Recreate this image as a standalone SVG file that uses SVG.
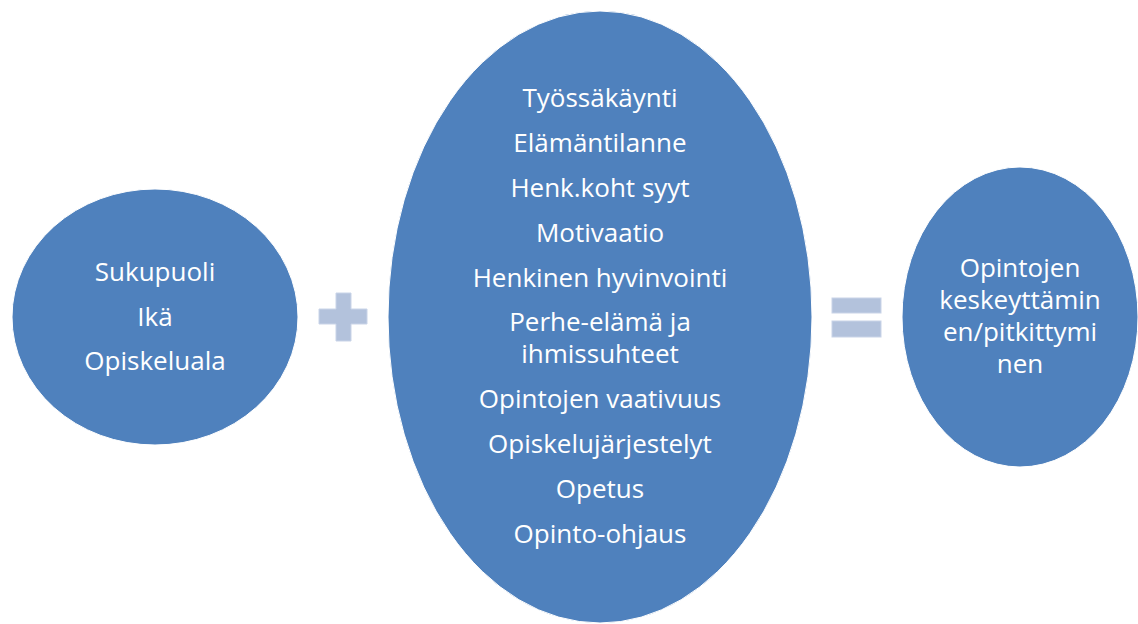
<svg xmlns="http://www.w3.org/2000/svg" width="1138" height="624" viewBox="0 0 1138 624">
  <style>
    .node { fill: #4F81BD; stroke: #ffffff; stroke-width: 1; }
    .op { fill: #B3C2DC; stroke: #C9D4E8; stroke-width: 1; }
    .t { font-family: "Open Sans", "Liberation Sans", sans-serif; font-size: 26px; fill: #ffffff; text-anchor: middle; }
  </style>
  <rect width="1138" height="624" fill="#ffffff"/>
  <g id="node-taustatekijat">
    <ellipse class="node" cx="155" cy="317" rx="143" ry="128"/>
    <text class="t" x="155" y="281">Sukupuoli</text>
    <text class="t" x="155" y="326">Ikä</text>
    <text class="t" x="155" y="370">Opiskeluala</text>
  </g>
  <g id="node-syyt">
    <ellipse class="node" cx="600" cy="317" rx="212" ry="306"/>
    <text class="t" x="600" y="107">Työssäkäynti</text>
    <text class="t" x="600" y="152">Elämäntilanne</text>
    <text class="t" x="600" y="197">Henk.koht syyt</text>
    <text class="t" x="600" y="242">Motivaatio</text>
    <text class="t" x="600" y="287">Henkinen hyvinvointi</text>
    <text class="t" x="600" y="331">Perhe-elämä ja</text>
    <text class="t" x="600" y="363">ihmissuhteet</text>
    <text class="t" x="600" y="408">Opintojen vaativuus</text>
    <text class="t" x="600" y="453">Opiskelujärjestelyt</text>
    <text class="t" x="600" y="498">Opetus</text>
    <text class="t" x="600" y="543">Opinto-ohjaus</text>
  </g>
  <g id="node-tulos">
    <ellipse class="node" cx="1020" cy="317" rx="118" ry="150"/>
    <text class="t" x="1020" y="277" font-size="27">Opintojen</text>
    <text class="t" x="1020" y="309" font-size="27">keskeyttämin</text>
    <text class="t" x="1020" y="341" font-size="27">en/pitkittymi</text>
    <text class="t" x="1020" y="373" font-size="27">nen</text>
  </g>
  <g id="connectors">
    <path class="op" d="M336 293 H351 V309 H367 V324 H351 V341 H336 V324 H319 V309 H336 Z"/>
    <rect class="op" x="832" y="298" width="49" height="15"/>
    <rect class="op" x="832" y="321" width="49" height="16"/>
  </g>
</svg>
